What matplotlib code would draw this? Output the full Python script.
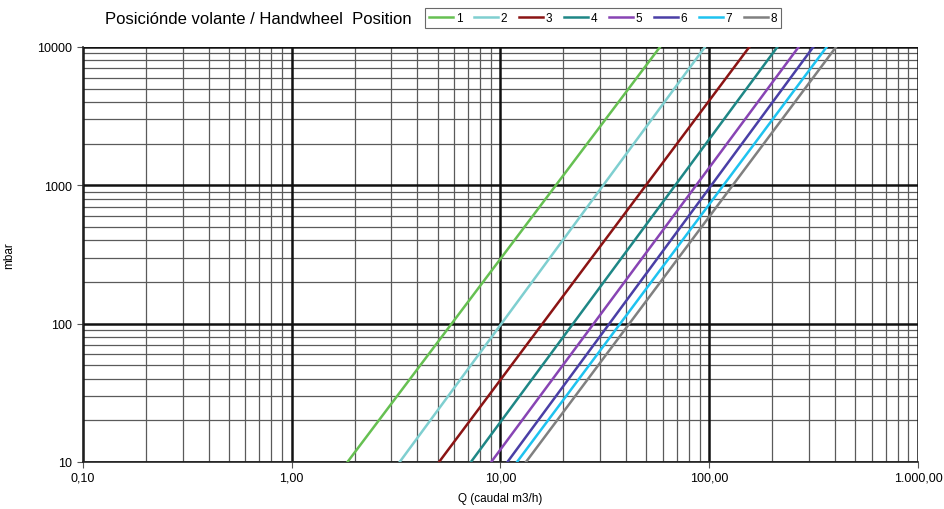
import matplotlib.pyplot as plt
from matplotlib.ticker import FixedLocator, FixedFormatter, NullFormatter

plt.rcParams['font.family'] = ['Liberation Sans', 'DejaVu Sans']

positions = ['1', '2', '3', '4', '5', '6', '7', '8']
colors = ['#66c052', '#7fcfd0', '#8b1414', '#1e8786', '#8844b4', '#4a3fa6', '#1ec3f0', '#808080']
# caudal (m3/h) read at 10 mbar and 10000 mbar for each handwheel position
dp_ends = [10, 10000]
q_at_10 = [1.85, 3.29, 5.08, 7.22, 9.03, 10.8, 12.0, 13.25]
q_at_10000 = [58.1, 95.4, 155.6, 212.0, 268.0, 315.0, 365.0, 405.0]

x_ticks = [0.1, 1, 10, 100, 1000]
x_labels = ['0,10', '1,00', '10,00', '100,00', '1.000,00']
y_ticks = [10, 100, 1000, 10000]
y_labels = ['10', '100', '1000', '10000']

fig = plt.figure(figsize=(9.45, 5.1), dpi=100)
ax = fig.add_axes((0.0878, 0.0922, 0.8836, 0.8137))
ax.set_xscale('log')
ax.set_yscale('log')
ax.set_xlim(0.1, 1000)
ax.set_ylim(10, 10000)

# grid: thick black decades, grey minor lines
minor_x = [m * 10.0 ** e for e in range(-1, 3) for m in range(2, 10)]
minor_y = [m * 10.0 ** e for e in range(1, 4) for m in range(2, 10)]
for v in minor_x:
    ax.axvline(v, color='#5a5a5a', lw=0.9, zorder=1)
for v in minor_y:
    ax.axhline(v, color='#5a5a5a', lw=0.9, zorder=1)
for v in x_ticks:
    ax.axvline(v, color='#111111', lw=1.8, zorder=1)
for v in y_ticks:
    ax.axhline(v, color='#111111', lw=1.8, zorder=1)

for i, name in enumerate(positions):
    ax.plot([q_at_10[i], q_at_10000[i]], dp_ends, color=colors[i], lw=1.8,
            label=name, zorder=3)

ax.xaxis.set_major_locator(FixedLocator(x_ticks))
ax.xaxis.set_major_formatter(FixedFormatter(x_labels))
ax.yaxis.set_major_locator(FixedLocator(y_ticks))
ax.yaxis.set_major_formatter(FixedFormatter(y_labels))
ax.xaxis.set_minor_formatter(NullFormatter())
ax.yaxis.set_minor_formatter(NullFormatter())
ax.tick_params(which='minor', length=0)
ax.tick_params(which='major', length=4, width=0.8, color='#555555', labelsize=9)
ax.tick_params(axis='x', pad=3)

for side in ['top', 'right']:
    ax.spines[side].set_visible(False)
for side in ['left', 'bottom']:
    ax.spines[side].set_color('#222222')
    ax.spines[side].set_linewidth(1.2)

ax.set_xlabel('Q (caudal m3/h)', fontsize=8.5, labelpad=6)
ax.set_ylabel('mbar', fontsize=8.5)
ax.yaxis.set_label_coords(-0.081, 0.5)

fig.text(0.111, 0.962, 'Posiciónde volante / Handwheel  Position', fontsize=12,
         va='center', ha='left')
leg = fig.legend(loc='center left', bbox_to_anchor=(0.45, 0.963), ncol=8,
                 fontsize=8.5, frameon=True, fancybox=False, edgecolor='#444444',
                 handlelength=2.0, handletextpad=0.25, columnspacing=1.0,
                 borderpad=0.35, borderaxespad=0)
leg.get_frame().set_linewidth(0.8)

fig.savefig('out.png', dpi=100)
